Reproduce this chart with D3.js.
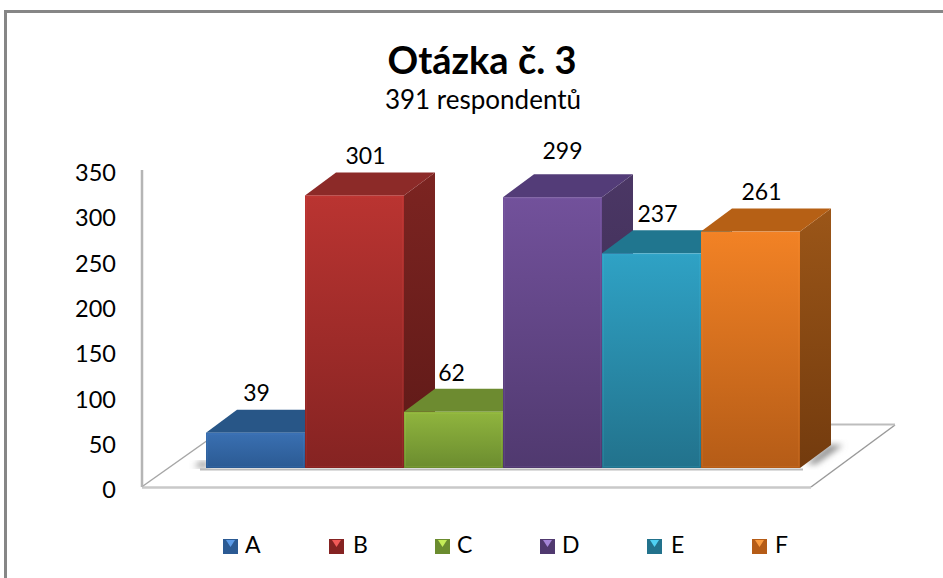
<!DOCTYPE html>
<html>
<head>
<meta charset="utf-8">
<script src="https://cdn.jsdelivr.net/npm/d3@7"></script>
<style>
    body { margin: 0; background: #fff; }
    text { font-family: Lato, "Open Sans", sans-serif; fill: #000; }
</style>
</head>
<body>
<div id="chart"></div>
<script>
const categories = ["A", "B", "C", "D", "E", "F"]
const values = [39, 301, 62, 299, 237, 261]
const yTicks = [0, 50, 100, 150, 200, 250, 300, 350]

const frontTop = ["#3a70b2", "#ba3431", "#90b53e", "#72519b", "#2fa2c5", "#f28225"]
const frontBottom = ["#2b5a93", "#852322", "#6b8c2f", "#50396f", "#22728c", "#b55c17"]
const topColors = ["#285687", "#8c2a28", "#6d8b30", "#533c78", "#20768f", "#b66015"]
const sideTop = ["#26507f", "#7c2421", "#5f7c2a", "#4b3765", "#1d6a82", "#9b5618"]
const sideBottom = ["#1d3f66", "#5d1917", "#4a6120", "#392a4e", "#154f61", "#733b0e"]
const swatchLight = ["#5b9be8", "#f25a58", "#c4ec58", "#a585d8", "#4fd0f2", "#fb9c40"]

// the data labels in the picture don't sit at one fixed offset from the bars
const labelNudgeX = [-9, 1, -12, 0, -4, 1]
const labelNudgeY = [1, 2, 2, -5, 2, 1]

const legendX = [223, 329, 435, 540, 647, 752]
const legendLabelX = [245, 353, 457, 562, 671, 775]

const width = 943, height = 578
const depthX = 31, depthY = -23
const baseLift = 19

const svg = d3.select("#chart").append("svg")
    .attr("width", width)
    .attr("height", height)
    .style("display", "block")

const defs = svg.append("defs")

categories.forEach((c, i) => {
    const front = defs.append("linearGradient")
        .attr("id", "front" + i).attr("x1", 0).attr("y1", 0).attr("x2", 0).attr("y2", 1)
    front.append("stop").attr("offset", "0%").attr("stop-color", frontTop[i])
    front.append("stop").attr("offset", "100%").attr("stop-color", frontBottom[i])

    const side = defs.append("linearGradient")
        .attr("id", "side" + i).attr("x1", 0).attr("y1", 0).attr("x2", 0).attr("y2", 1)
    side.append("stop").attr("offset", "0%").attr("stop-color", sideTop[i])
    side.append("stop").attr("offset", "100%").attr("stop-color", sideBottom[i])
})

defs.append("filter").attr("id", "blur")
    .attr("x", "-30%").attr("y", "-30%").attr("width", "160%").attr("height", "160%")
    .append("feGaussianBlur").attr("stdDeviation", 3)

// outer frame, only left and top show in the picture
svg.append("path")
    .attr("d", "M5.5,578V11.5H943")
    .attr("fill", "none")
    .attr("stroke", "#868686")
    .attr("stroke-width", 3)

svg.append("text")
    .attr("x", 482).attr("y", 74)
    .attr("text-anchor", "middle")
    .attr("font-size", 38).attr("font-weight", 700)
    .text("Otázka č. 3")

svg.append("text")
    .attr("x", 483).attr("y", 109)
    .attr("text-anchor", "middle")
    .attr("font-size", 26)
    .text("391 respondentů")

const x = d3.scaleBand().domain(categories).range([206, 800])
const y = d3.scaleLinear().domain([0, 350]).range([487, 170])

const yAxis = d3.axisLeft(y).tickValues(yTicks).tickSize(0).tickPadding(0)
const axisG = svg.append("g")
    .attr("transform", "translate(116,0)")
    .call(yAxis)
axisG.select(".domain").remove()
axisG.selectAll("text")
    .attr("font-size", 23.5)
    .attr("dy", "0.45em")

// floor
svg.append("path")
    .attr("d", "M142,487L207,440V425H895L811,487Z")
    .attr("fill", "#fff")
svg.append("path")
    .attr("d", "M142,487.5H811")
    .attr("stroke", "#c9c9c9").attr("stroke-width", 2.5)
svg.append("path")
    .attr("d", "M811,487L895,425")
    .attr("stroke", "#9a9a9a").attr("stroke-width", 1.5)
svg.append("path")
    .attr("d", "M825,424.5H895")
    .attr("stroke", "#bdbdbd").attr("stroke-width", 2)
svg.append("path")
    .attr("d", "M143,486L208,440")
    .attr("stroke", "#a6a6a6").attr("stroke-width", 1.5)
svg.append("path")
    .attr("d", "M142,170V487")
    .attr("stroke", "#b5b5b5").attr("stroke-width", 2.5)
svg.append("path")
    .attr("d", "M200,469.5H803")
    .attr("stroke", "#bcbcbc").attr("stroke-width", 2)

// shadows at both ends of the row
svg.append("path")
    .attr("d", "M194,467H208V462H200Z")
    .attr("fill", "#888").attr("filter", "url(#blur)")
svg.append("path")
    .attr("d", "M806,464L829,445H843L816,464Z")
    .attr("fill", "#8c8c8c").attr("filter", "url(#blur)")

const bars = svg.selectAll("g.bar")
    .data(categories)
    .enter().append("g")
    .attr("class", "bar")

const base = y(0) - baseLift
const topOf = i => y(values[i]) - baseLift

bars.append("path")
    .attr("d", (c, i) => {
        const r = x(c) + x.bandwidth(), t = topOf(i)
        return `M${r},${t}l${depthX},${depthY}V${base + depthY}L${r},${base}Z`
    })
    .attr("fill", (c, i) => `url(#side${i})`)

bars.append("path")
    .attr("d", (c, i) => {
        const l = x(c), r = l + x.bandwidth(), t = topOf(i)
        return `M${l},${t}l${depthX},${depthY}H${r + depthX}L${r},${t}Z`
    })
    .attr("fill", (c, i) => topColors[i])

bars.append("rect")
    .attr("x", c => x(c))
    .attr("y", (c, i) => topOf(i))
    .attr("width", x.bandwidth())
    .attr("height", (c, i) => base - topOf(i))
    .attr("fill", (c, i) => `url(#front${i})`)

// soft lit edge round the front face
bars.append("rect")
    .attr("x", c => x(c) + 1.5)
    .attr("y", (c, i) => topOf(i) + 1.5)
    .attr("width", x.bandwidth() - 3)
    .attr("height", (c, i) => base - topOf(i) - 3)
    .attr("fill", "none")
    .attr("stroke", (c, i) => swatchLight[i])
    .attr("stroke-opacity", 0.12)

svg.selectAll("text.value")
    .data(values)
    .enter().append("text")
    .attr("class", "value")
    .attr("x", (v, i) => x(categories[i]) + x.bandwidth() / 2 + 10 + labelNudgeX[i])
    .attr("y", (v, i) => topOf(i) - 33 + labelNudgeY[i])
    .attr("text-anchor", "middle")
    .attr("font-size", 23)
    .text(v => v)

const legend = svg.selectAll("g.legend")
    .data(categories)
    .enter().append("g")
    .attr("class", "legend")
    .attr("transform", (c, i) => `translate(${legendX[i]},539)`)

legend.append("rect")
    .attr("width", 15).attr("height", 15)
    .attr("fill", (c, i) => frontBottom[i])
legend.append("path")
    .attr("d", "M3,1H12L7.5,8Z")
    .attr("fill", (c, i) => swatchLight[i])
legend.append("text")
    .attr("x", (c, i) => legendLabelX[i] - legendX[i]).attr("y", 14)
    .attr("font-size", 23)
    .text(c => c)
</script>
</body>
</html>
